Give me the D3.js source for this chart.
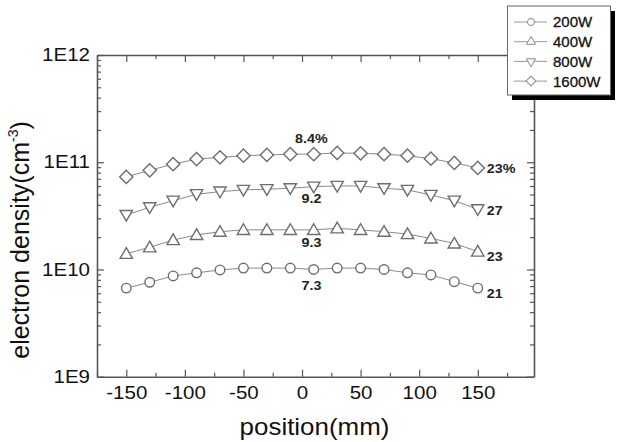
<!DOCTYPE html>
<html><head><meta charset="utf-8">
<script src="https://cdn.jsdelivr.net/npm/d3@7"></script>
<style>body{margin:0;background:#fff}svg{display:block}text{font-family:"Liberation Sans",Arial,sans-serif}</style>
</head><body><svg id="c" width="618" height="442"></svg>
<script>
// ---- data ----
const positions = [-150,-130,-110,-90,-70,-50,-30,-10,10,30,50,70,90,110,130,150];
const seriesNames = ["200W","400W","800W","1600W"];
const d200  = [6.7e9, 7.6e9, 8.7e9, 9.3e9, 9.9e9, 1.03e10, 1.03e10, 1.03e10, 1.0e10, 1.03e10, 1.03e10, 1.0e10, 9.3e9, 8.9e9, 7.7e9, 6.7e9];
const d400  = [1.40e10, 1.61e10, 1.88e10, 2.10e10, 2.25e10, 2.34e10, 2.34e10, 2.34e10, 2.34e10, 2.42e10, 2.34e10, 2.25e10, 2.14e10, 1.95e10, 1.75e10, 1.47e10];
const d800  = [3.22e10, 3.80e10, 4.38e10, 5.03e10, 5.32e10, 5.52e10, 5.6e10, 5.72e10, 5.92e10, 6.01e10, 6.01e10, 5.72e10, 5.52e10, 4.95e10, 4.38e10, 3.64e10];
const d1600 = [7.3e10, 8.4e10, 9.6e10, 1.07e11, 1.11e11, 1.15e11, 1.17e11, 1.19e11, 1.19e11, 1.22e11, 1.21e11, 1.19e11, 1.15e11, 1.08e11, 9.85e10, 8.85e10];
const centerLabels = ["7.3","9.3","9.2","8.4%"];
const endLabels = ["21","23","27","23%"];
const xTickValues = [-150,-100,-50,0,50,100,150];
const xTickLabels = ["-150","-100","-50","0","50","100","150"];
const xMinorValues = [-175,-125,-75,-25,25,75,125,175];
const yTickValues = [1e9,1e10,1e11,1e12];
const yTickLabels = ["1E9","1E10","1E11","1E12"];
const xTitle = "position(mm)";
const yTitle = "electron density(cm";

// ---- drawing ----
const series = [d200,d400,d800,d1600];
const m = {l:97, r:534, t:55, b:376.7};
const x = d3.scaleLinear().domain([-175,198]).range([m.l,m.r]);
const y = d3.scaleLog().domain([1e9,1e12]).range([m.b,m.t]);
const svg = d3.select("#c");
const axisColor = "#555";

function stretch(sel,k){
  sel.each(function(){
    const L = this.getComputedTextLength();
    this.setAttribute("textLength", L*k);
    this.setAttribute("lengthAdjust","spacingAndGlyphs");
  });
}
function styleAxis(g, keepPath){
  g.selectAll("line").attr("stroke",axisColor).attr("stroke-width",1.2);
  g.select("path.domain").attr("stroke", keepPath?axisColor:"none").attr("stroke-width",1.6);
}
const yMinor = y.ticks().filter(v => !yTickValues.includes(v));

// bottom
const gb = svg.append("g").attr("transform",`translate(0,${m.b})`)
  .call(d3.axisBottom(x).tickValues(xTickValues).tickSize(-7).tickSizeOuter(0).tickFormat((d,i)=>xTickLabels[i]));
styleAxis(gb,true);
gb.selectAll("text").attr("y",22).attr("dy",0).attr("font-size",18).attr("fill","#111")
  .style("font-family",'"Liberation Sans",Arial,sans-serif');
stretch(gb.selectAll("text"),1.14);
const gbm = svg.append("g").attr("transform",`translate(0,${m.b})`)
  .call(d3.axisBottom(x).tickValues(xMinorValues).tickSize(-4).tickSizeOuter(0).tickFormat(""));
styleAxis(gbm,false);
// top
const gt = svg.append("g").attr("transform",`translate(0,${m.t})`)
  .call(d3.axisTop(x).tickValues(xTickValues).tickSize(-7).tickSizeOuter(0).tickFormat(""));
styleAxis(gt,true);
const gtm = svg.append("g").attr("transform",`translate(0,${m.t})`)
  .call(d3.axisTop(x).tickValues(xMinorValues).tickSize(-4).tickSizeOuter(0).tickFormat(""));
styleAxis(gtm,false);
// left
const gl = svg.append("g").attr("transform",`translate(${m.l},0)`)
  .call(d3.axisLeft(y).tickValues(yTickValues).tickSize(-7).tickSizeOuter(0).tickPadding(7)
    .tickFormat((d,i)=>yTickLabels[i]));
styleAxis(gl,true);
gl.selectAll("text").attr("font-size",18).attr("fill","#111").style("font-family",'"Liberation Sans",Arial,sans-serif');
stretch(gl.selectAll("text"),1.14);
const glm = svg.append("g").attr("transform",`translate(${m.l},0)`)
  .call(d3.axisLeft(y).tickValues(yMinor).tickSize(-4).tickSizeOuter(0).tickFormat(""));
styleAxis(glm,false);
// right
const gr = svg.append("g").attr("transform",`translate(${m.r},0)`)
  .call(d3.axisRight(y).tickValues(yTickValues).tickSize(-7).tickSizeOuter(0).tickFormat(""));
styleAxis(gr,true);
const grm = svg.append("g").attr("transform",`translate(${m.r},0)`)
  .call(d3.axisRight(y).tickValues(yMinor).tickSize(-4).tickSizeOuter(0).tickFormat(""));
styleAxis(grm,false);

// titles
const xt = svg.append("text").attr("x",(m.l+m.r)/2 - 1).attr("y",435).attr("text-anchor","middle")
  .attr("font-size",24).attr("fill","#111").text(xTitle);
stretch(xt,1.08);
const yt = svg.append("text").attr("transform","translate(29,240) rotate(-90)").attr("text-anchor","middle")
  .attr("font-size",25).attr("fill","#111");
yt.append("tspan").text(yTitle);
yt.append("tspan").attr("font-size",14).attr("dy",-11).text("-3");
yt.append("tspan").attr("dy",11).text(")");

// symbols
const markerColor = "#6e6e6e";
function markerPath(i, scale){
  const types = [d3.symbolCircle, d3.symbolTriangle, d3.symbolTriangle, d3.symbolSquare];
  const sizes = [72, 66, 66, 88];
  return d3.symbol().type(types[i]).size(sizes[i]*scale)();
}
const rot = [0,0,180,45];
const line = d3.line().x((d,i)=>x(positions[i])).y(d=>y(d));
series.forEach((s,si)=>{
  svg.append("path").attr("d",line(s)).attr("fill","none").attr("stroke","#8a8a8a").attr("stroke-width",1);
  svg.append("g").selectAll("path").data(s).join("path")
    .attr("d",markerPath(si,1))
    .attr("transform",(d,i)=>`translate(${x(positions[i])},${y(d) + (si===1?1:si===2?-1:0)}) rotate(${rot[si]})`)
    .attr("fill","#fff").attr("stroke",markerColor).attr("stroke-width",1.4);
});

// annotations
const cOff = [21, 17.5, 16, -11];
const eOff = [10, 9, 6, 5];
series.forEach((s,si)=>{
  const c = svg.append("text").attr("x",x(8)).attr("y",y(s[8])+cOff[si]).attr("text-anchor","middle")
    .attr("font-size",13).attr("font-weight","bold").attr("fill","#222").text(centerLabels[si]);
  stretch(c,1.1);
  const e = svg.append("text").attr("x",x(150)+9).attr("y",y(s[15])+eOff[si])
    .attr("font-size",13).attr("font-weight","bold").attr("fill","#222").text(endLabels[si]);
  stretch(e,1.1);
});

// legend
const lg = svg.append("g");
lg.append("rect").attr("x",512).attr("y",11).attr("width",103).attr("height",89).attr("fill","#000");
lg.append("rect").attr("x",507.5).attr("y",6).attr("width",103).attr("height",89).attr("fill","#fff")
  .attr("stroke","#666").attr("stroke-width",1);
seriesNames.forEach((nm,i)=>{
  const cy = 22 + i*19.7;
  lg.append("line").attr("x1",514).attr("x2",547).attr("y1",cy).attr("y2",cy).attr("stroke","#999").attr("stroke-width",1);
  lg.append("path").attr("d",markerPath(i,0.55)).attr("transform",`translate(531,${cy}) rotate(${rot[i]})`)
    .attr("fill","#fff").attr("stroke","#888").attr("stroke-width",1);
  lg.append("text").attr("x",553).attr("y",cy).attr("dy","0.36em").attr("font-size",15)
    .attr("fill","#111").attr("stroke","#111").attr("stroke-width",0.3).text(nm);
});
</script></body></html>
